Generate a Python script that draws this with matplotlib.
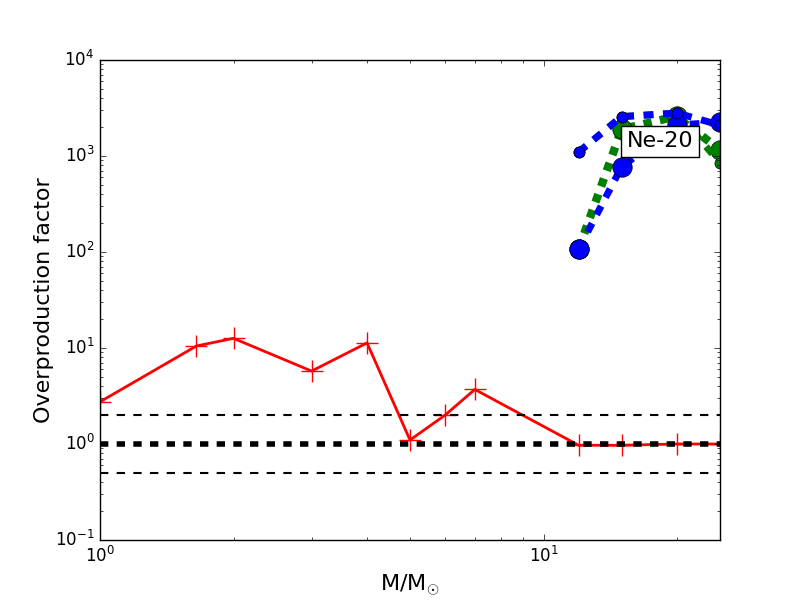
import matplotlib
matplotlib.use("Agg")
import matplotlib.pyplot as plt

plt.style.use('classic')
plt.rcParams['lines.scale_dashes'] = False

# Data
masses_low = [1, 1.65, 2, 3, 4, 5, 6, 7, 12, 15, 20, 25]
red_vals = [2.75, 10.5, 12.6, 5.75, 11.3, 1.1, 2.0, 3.7, 0.97, 0.97, 1.0, 1.0]

masses_high = [12, 15, 20, 25]
green_big = [107, 1900, 2600, 1150]
green_small = [1100, 2570, 2800, 850]
blue_big = [107, 770, 2100, 2250]
blue_small = [1100, 2570, 2800, 2100]

ref_lines = [2.0, 0.5]
unity = 1.0

fig = plt.figure(figsize=(8, 6), dpi=100)
ax = fig.add_subplot(111)

ax.plot(masses_low, red_vals, color='red', lw=2, marker='+', markersize=16,
        markeredgecolor='red', markeredgewidth=1)

dot_g = (0, (6, 6))
dot_b = (0, (7, 7))
ax.plot(masses_high, green_big, color='green', ls=dot_g, lw=6, marker='o',
        markersize=14, markerfacecolor='green')
ax.plot(masses_high, green_small, color='green', ls=dot_b, lw=5, marker='o',
        markersize=8, markerfacecolor='green')
ax.plot(masses_high, blue_big, color='blue', ls=dot_b, lw=5, marker='o',
        markersize=14, markerfacecolor='blue')
ax.plot(masses_high, blue_small, color='blue', ls=dot_b, lw=5, marker='o',
        markersize=8, markerfacecolor='blue')

for v in ref_lines:
    ax.axhline(v, color='black', ls='--', lw=1.5)
ax.axhline(unity, color='black', ls='--', lw=4)

ax.set_xscale('log')
ax.set_yscale('log')
ax.set_xlim(1, 25)
ax.set_ylim(0.1, 1e4)

ax.set_xlabel(r'M/M$_{\odot}$', fontsize=16)
ax.set_ylabel('Overproduction factor', fontsize=16, labelpad=1)

ax.text(0.903, 0.831, 'Ne-20', transform=ax.transAxes, fontsize=16,
        ha='center', va='center',
        bbox=dict(facecolor='white', edgecolor='black', pad=4))

fig.savefig('out.png', dpi=100)
